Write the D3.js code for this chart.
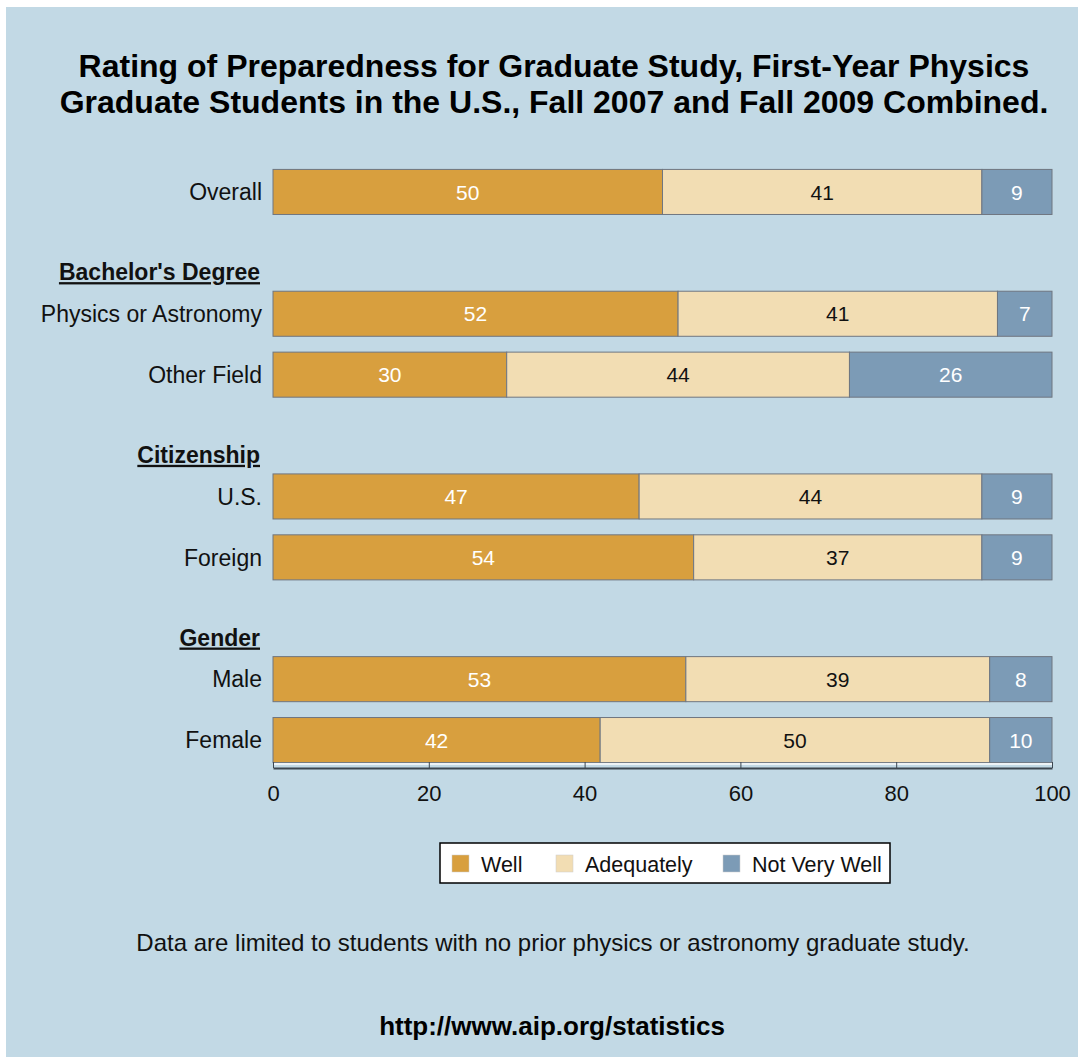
<!DOCTYPE html>
<html>
<head>
<meta charset="utf-8">
<script src="https://cdn.jsdelivr.net/npm/d3@7"></script>
<style>
  body { margin: 0; background: #fff; }
  svg { display: block; font-family: "Liberation Sans", Arial, sans-serif; }
</style>
</head>
<body>
<svg id="chart"></svg>
<script>
// rows of the chart, h1..h3 are empty slots that hold a group header
const rows = ["Overall", "h1", "Physics or Astronomy", "Other Field", "h2", "U.S.", "Foreign", "h3", "Male", "Female"];
const headers = { h1: "Bachelor's Degree", h2: "Citizenship", h3: "Gender" };
const barRows = ["Overall", "Physics or Astronomy", "Other Field", "U.S.", "Foreign", "Male", "Female"];
const well = [50, 52, 30, 47, 54, 53, 42];
const adequately = [41, 41, 44, 44, 37, 39, 50];
const notVeryWell = [9, 7, 26, 9, 9, 8, 10];
const seriesNames = ["Well", "Adequately", "Not Very Well"];
const xTicks = [0, 20, 40, 60, 80, 100];

const W = 1084, H = 1057;
const colors = ["#d89f3e", "#f2ddb3", "#7c9bb6"];
const textColors = ["#fff", "#111", "#fff"];

const svg = d3.select("#chart").attr("width", W).attr("height", H);

// background panel
svg.append("rect")
    .attr("x", 6).attr("y", 7)
    .attr("width", 1072).attr("height", H - 7)
    .attr("fill", "#c2d9e5");

// title
const title = svg.append("text")
    .attr("text-anchor", "middle")
    .attr("font-weight", "bold")
    .style("font-size", "32px")
    .attr("fill", "#000");
title.append("tspan").attr("x", 554).attr("y", 77).text("Rating of Preparedness for Graduate Study, First-Year Physics");
title.append("tspan").attr("x", 554).attr("y", 113).text("Graduate Students in the U.S., Fall 2007 and Fall 2009 Combined.");

// rounded shares can add up to a bit over 100, so keep bars inside the axis
const x = d3.scaleLinear().domain([0, 100]).range([273, 1052]).clamp(true);
const y = d3.scaleBand().domain(rows).range([161.5, 770.5])
    .paddingInner(0.26).paddingOuter(0.13);

// stack data
const table = barRows.map((r, i) => ({ row: r, "Well": well[i], "Adequately": adequately[i], "Not Very Well": notVeryWell[i] }));
const stacked = d3.stack().keys(seriesNames)(table);

const groups = svg.append("g").selectAll("g")
    .data(stacked)
    .join("g");

groups.selectAll("rect")
    .data(s => s.map(d => ({ d, key: s.key, idx: s.index })))
    .join("rect")
        .attr("x", o => x(o.d[0]))
        .attr("y", o => y(o.d.data.row))
        .attr("width", o => x(o.d[1]) - x(o.d[0]))
        .attr("height", y.bandwidth())
        .attr("fill", o => colors[o.idx])
        .attr("stroke", "#6f7680")
        .attr("stroke-width", 1);

groups.selectAll("text")
    .data(s => s.map(d => ({ d, key: s.key, idx: s.index })))
    .join("text")
        .attr("x", o => (x(o.d[0]) + x(o.d[1])) / 2)
        .attr("y", o => y(o.d.data.row) + y.bandwidth() / 2)
        .attr("dy", "0.36em")
        .attr("text-anchor", "middle")
        .style("font-size", "21px")
        .attr("fill", o => textColors[o.idx])
        .text(o => o.d.data[o.key]);

// row labels
svg.append("g").selectAll("text")
    .data(barRows)
    .join("text")
        .attr("x", 262)
        .attr("y", d => y(d) + y.bandwidth() / 2)
        .attr("dy", "0.36em")
        .attr("text-anchor", "end")
        .style("font-size", "23px")
        .attr("fill", "#111")
        .text(d => d);

// group headers, underlined
svg.append("g").selectAll("text")
    .data(Object.keys(headers))
    .join("text")
        .attr("x", 260)
        .attr("y", d => y(d) + y.bandwidth() / 2 + 19)
        .attr("dy", "0.36em")
        .attr("text-anchor", "end")
        .attr("font-weight", "bold")
        .style("font-size", "23px")
        .style("text-decoration", "underline")
        .attr("fill", "#111")
        .text(d => headers[d]);

// x axis
const axisY = 768;
svg.append("line")
    .attr("x1", x(0)).attr("x2", x(100))
    .attr("y1", axisY - 4).attr("y2", axisY - 4)
    .attr("stroke", "#eef3f6").attr("stroke-width", 2);
const xAxis = svg.append("g")
    .attr("transform", `translate(0,${axisY})`)
    .call(d3.axisBottom(x).tickValues(xTicks).tickSizeInner(-6).tickSizeOuter(0).tickPadding(17));
xAxis.select(".domain").attr("stroke", "#3c4650").attr("stroke-width", 2);
xAxis.selectAll(".tick line").attr("stroke", "#3c4650");
xAxis.selectAll(".tick text")
    .style("font-size", "22px")
    .style("font-family", "'Liberation Sans', Arial, sans-serif")
    .attr("fill", "#111");

// legend
const legend = svg.append("g");
legend.append("rect")
    .attr("x", 440).attr("y", 843)
    .attr("width", 450).attr("height", 40)
    .attr("fill", "#fff").attr("stroke", "#000").attr("stroke-width", 1.5);
const legendX = [452, 556, 723];
const items = legend.selectAll("g")
    .data(seriesNames)
    .join("g")
        .attr("transform", (d, i) => `translate(${legendX[i]},855)`);
items.append("rect")
    .attr("width", 17).attr("height", 17)
    .attr("fill", (d, i) => colors[i])
    .attr("stroke", "#ccc").attr("stroke-width", 0.5);
items.append("text")
    .attr("x", 29).attr("y", 9)
    .attr("dy", "0.36em")
    .style("font-size", "21.5px")
    .attr("fill", "#111")
    .text(d => d);

// notes
svg.append("text")
    .attr("x", 553).attr("y", 951)
    .attr("text-anchor", "middle")
    .style("font-size", "24px")
    .attr("fill", "#111")
    .text("Data are limited to students with no prior physics or astronomy graduate study.");

svg.append("text")
    .attr("x", 552).attr("y", 1035)
    .attr("text-anchor", "middle")
    .attr("font-weight", "bold")
    .style("font-size", "26px")
    .attr("fill", "#000")
    .text("http://www.aip.org/statistics");
</script>
</body>
</html>
